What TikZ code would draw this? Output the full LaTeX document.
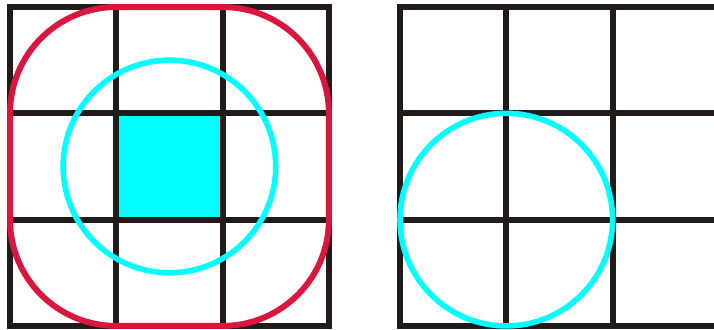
\documentclass[tikz,border=0pt]{standalone}
\definecolor{gridink}{RGB}{33,28,26}
\definecolor{roundred}{RGB}{218,22,62}
\definecolor{ringcyan}{RGB}{0,255,255}
\begin{document}
\begin{tikzpicture}[
  gridlines/.style={draw=gridink, line width=1.6pt},
  roundbox/.style={draw=roundred, line width=1.6pt, rounded corners=1cm},
  ring/.style={draw=ringcyan, line width=1.5pt}]
  \clip (-0.094,-0.038) rectangle (6.623,3.066);
  % left grid
  \fill[ringcyan] (1,1) rectangle (2,2);
  \draw[gridlines] (0,0) grid (3,3);
  \draw[gridlines] (0,0) rectangle (3,3);
  \draw[roundbox] (0,0) rectangle (3,3);
  \draw[ring] (1.5,1.5) circle (1);
  % right grid
  \begin{scope}[xshift=3.669cm]
    \draw[gridlines] (0,0) grid (4,3);
    \draw[gridlines] (0,0) rectangle (4,3);
    \draw[ring] (1,1) circle (1);
  \end{scope}
\end{tikzpicture}
\end{document}
